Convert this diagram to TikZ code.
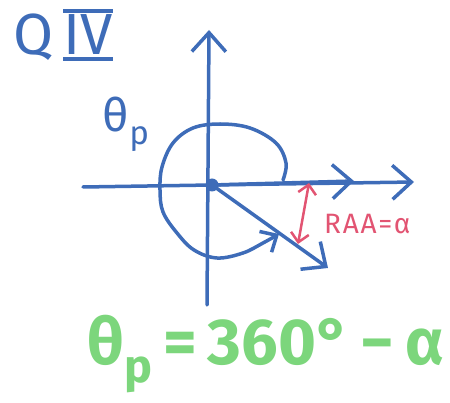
\documentclass[tikz,border=0pt]{standalone}
\usepackage{fontspec}
\setmainfont{Fira Sans}
\usetikzlibrary{arrows.meta}
\definecolor{penblue}{RGB}{62,108,184}
\definecolor{penred}{RGB}{226,84,114}
\definecolor{pengreen}{RGB}{124,214,124}
\newcommand{\romanbar}[1]{\setbox0\hbox{#1}\rlap{\rule[-0.12em]{\wd0}{0.07em}}\rlap{\rule[0.72em]{\wd0}{0.07em}}\box0}
\newcommand{\lowp}{\raisebox{-0.28em}{\scalebox{0.72}{p}}}

\begin{document}
\begin{tikzpicture}[
    x=1pt, y=-1pt,
    pen/.style={draw=penblue, line width=3.5pt, line cap=round, line join=round},
    axis/.style={pen, -{Straight Barb[length=19pt,width=34pt]}},
    turn/.style={pen, -{Straight Barb[length=13pt,width=24pt]}},
    raa/.style={draw=penred, line width=2.5pt, line cap=round, {Straight Barb[length=9pt,width=18pt]}-{Straight Barb[length=9pt,width=18pt]}},
    label/.style={text=penblue, inner sep=0pt}
]
    % Frame
    \useasboundingbox (0,0) rectangle (450,403);

    % Axes
    \coordinate (O) at (212,185);
    \coordinate (xl) at (83,187);
    \coordinate (xr) at (414,182);
    \coordinate (yb) at (207,305);
    \coordinate (yt) at (209,30);
    \draw[pen] (xl) -- (O);
    \draw[axis] (O) -- (xr);
    \draw[axis] (yb) -- (yt);

    % Initial and terminal sides
    \coordinate (init) at (354,181);
    \coordinate (term) at (328,268);
    \draw[axis] (O) -- (init);
    \draw[axis] (O) -- (term);
    \fill[penblue] (O) circle (6.5pt);

    % Rotation of theta_p
    \draw[turn] plot[smooth, tension=0.6] coordinates {
        (283,180) (286,163) (276,143) (250,128) (220,124) (193,128)
        (173,143) (162,167) (160,190) (163,212) (177,233) (194,250)
        (217,258) (243,253) (263,243) (279,234)};

    % Reference angle
    \coordinate (ra) at (309,183);
    \coordinate (rb) at (298,244);
    \draw[raa] (ra) -- (rb);
    \node[text=penred, font=\fontsize{28}{28}\selectfont\addfontfeature{LetterSpace=6}, anchor=west, inner sep=0pt] (raalbl) at (324,224) {RAA=α};

    % Labels
    \node[label, font=\fontsize{58}{58}\selectfont] (quad) at (63,35) {Q\,\romanbar{IV}};
    \node[label, font=\fontsize{46}{46}\selectfont] (thp) at (126,124) {θ\lowp};

    % Formula
    \node[text=pengreen, font=\bfseries\fontsize{65}{65}\selectfont] (formula) at (266,354) {θ\lowp\,=\,360°\,−\,α};
\end{tikzpicture}
\end{document}
